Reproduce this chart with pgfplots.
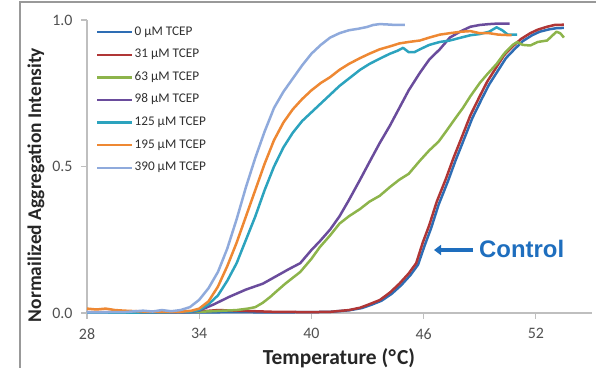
\documentclass[border=0pt]{standalone}
\usepackage{pgfplots}
\pgfplotsset{compat=1.18}
\usepackage{fontspec}
\setmainfont{Carlito}
\newfontfamily\arialfont{Liberation Sans}
\usetikzlibrary{arrows.meta}
\definecolor{cBlue}{RGB}{46,109,180}
\definecolor{cRed}{RGB}{176,54,54}
\definecolor{cGreen}{RGB}{141,180,75}
\definecolor{cPurple}{RGB}{106,76,156}
\definecolor{cTeal}{RGB}{44,163,190}
\definecolor{cOrange}{RGB}{238,136,51}
\definecolor{cLight}{RGB}{143,170,220}
\definecolor{cCtrl}{RGB}{30,110,190}
\definecolor{cAxis}{RGB}{191,191,191}
\definecolor{cTick}{RGB}{80,80,80}
\begin{document}
\begin{tikzpicture}[x=1bp,y=1bp]
\begin{axis}[
  at={(87bp,55bp)}, anchor=south west,
  scale only axis, width=505bp, height=293bp,
  xmin=28, xmax=55, ymin=0, ymax=1,
  axis x line=bottom, axis y line=left,
  axis line style={draw=cAxis, line width=1.3bp, -},
  xtick={28,34,40,46,52}, ytick={0,0.5,1},
  tick align=outside, major tick length=6bp,
  tick style={draw=cAxis, line width=1.1bp},
  minor tick num=0,
  yticklabel style={/pgf/number format/.cd, fixed, fixed zerofill, precision=1, /tikz/.cd, xshift=-5bp},
  xticklabel style={yshift=-6bp},
  /pgf/number format/assume math mode=true,
  ticklabel style={font=\fontsize{16}{16}\selectfont, text=cTick},
  clip=false,
  legend style={draw=none, fill=none, at={(rel axis cs:0,1)}, anchor=north west,
    xshift=9bp, yshift=-6bp, font=\fontsize{13.3}{13.3}\selectfont,
    row sep=10.6bp, inner sep=0pt,
    nodes={inner sep=1bp, text height=8bp, text depth=2bp, anchor=west, text=cTick!60!black}},
  legend cell align=left,
  legend image code/.code={\draw[#1, line width=2.4bp] (0bp,0bp) -- (35bp,0bp);},
  every axis plot/.append style={line width=2.5bp, line join=round},
]
% 0 uM
\addplot[cBlue] coordinates {
(28,0.002)(30,0.002)(32,0.003)(34,0.002)(36,0.003)(38,0.002)(40,0.003)(41,0.004)(42,0.009)
(42.7,0.017)(43.2,0.028)(43.75,0.042)(44.3,0.066)(44.8,0.095)(45.3,0.13)(45.7,0.165)
(46.05,0.23)(46.4,0.29)(46.8,0.37)(47.3,0.45)(47.7,0.52)(48.2,0.60)(48.6,0.665)(49.1,0.73)
(49.5,0.78)(50.0,0.83)(50.4,0.87)(50.85,0.90)(51.3,0.928)(51.8,0.948)(52.2,0.96)(52.7,0.968)
(53.1,0.972)(53.5,0.973)};
% 31 uM
\addplot[cRed] coordinates {
(28,0.003)(30,0.003)(32,0.003)(34,0.005)(35,0.01)(36,0.008)(37,0.006)(38,0.004)(40,0.003)
(41,0.004)(42,0.01)(42.6,0.018)(43.1,0.03)(43.65,0.044)(44.2,0.07)(44.7,0.10)(45.2,0.135)
(45.6,0.17)(45.95,0.24)(46.3,0.30)(46.7,0.38)(47.2,0.46)(47.6,0.53)(48.1,0.61)(48.5,0.675)
(49.0,0.74)(49.4,0.79)(49.9,0.84)(50.3,0.88)(50.76,0.91)(51.2,0.935)(51.7,0.955)(52.1,0.967)
(52.6,0.977)(53.0,0.983)(53.5,0.984)};
% 63 uM
\addplot[cGreen] coordinates {
(28,0.002)(30,0.002)(32,0.003)(34,0.004)(35,0.007)(36,0.01)(36.6,0.015)(37.0,0.02)(37.4,0.035)
(37.8,0.055)(38.15,0.075)(38.6,0.10)(39.0,0.12)(39.4,0.14)(40.0,0.185)(40.45,0.225)(41.0,0.265)
(41.5,0.305)(42.0,0.33)(42.6,0.355)(43.1,0.38)(43.65,0.40)(44.2,0.43)(44.7,0.455)(45.2,0.475)
(45.8,0.52)(46.3,0.555)(46.8,0.585)(47.2,0.62)(47.7,0.665)(48.1,0.70)(48.5,0.74)(49.0,0.785)
(49.4,0.815)(49.9,0.85)(50.3,0.885)(50.76,0.915)(51.0,0.925)(51.3,0.915)(51.7,0.913)(52.1,0.925)
(52.6,0.93)(53.1,0.96)(53.3,0.955)(53.5,0.94)};
% 98 uM
\addplot[cPurple] coordinates {
(28,0.001)(32,0.002)(33.5,0.003)(34.0,0.008)(34.8,0.03)(35.6,0.055)(36.5,0.08)(37.4,0.10)
(38.1,0.125)(38.8,0.15)(39.4,0.17)(40.0,0.215)(40.45,0.245)(41.0,0.285)(41.5,0.33)(42.0,0.385)
(42.6,0.455)(43.1,0.515)(43.65,0.58)(44.2,0.64)(44.7,0.70)(45.2,0.76)(45.8,0.82)(46.3,0.865)
(46.86,0.90)(47.4,0.94)(48.0,0.962)(48.5,0.977)(49.0,0.983)(49.5,0.986)(50.0,0.988)(50.6,0.988)};
% 125 uM
\addplot[cTeal] coordinates {
(28,0.001)(32,0.002)(33.5,0.004)(34.0,0.01)(34.5,0.03)(35.0,0.06)(35.5,0.11)(36.0,0.17)
(36.5,0.25)(37.0,0.33)(37.5,0.42)(38.0,0.50)(38.5,0.565)(39.0,0.615)(39.5,0.655)(40.0,0.685)
(40.5,0.715)(41.0,0.745)(41.5,0.775)(42.0,0.80)(42.6,0.83)(43.1,0.85)(43.65,0.868)(44.2,0.885)
(44.6,0.895)(44.9,0.905)(45.2,0.89)(45.5,0.89)(45.8,0.90)(46.3,0.915)(46.86,0.925)(47.4,0.93)
(48.0,0.94)(48.5,0.948)(49.0,0.952)(49.5,0.96)(49.9,0.975)(50.2,0.965)(50.5,0.95)(51.0,0.95)};
% 195 uM
\addplot[cOrange] coordinates {
(28,0.015)(28.5,0.012)(29,0.015)(29.5,0.01)(30,0.008)(31,0.005)(32,0.004)(33,0.004)(33.6,0.008)
(34.0,0.015)(34.5,0.04)(35.0,0.09)(35.5,0.16)(36.0,0.24)(36.5,0.33)(37.0,0.42)(37.5,0.51)
(38.0,0.59)(38.5,0.65)(39.0,0.695)(39.5,0.73)(40.0,0.76)(40.5,0.785)(41.0,0.805)(41.5,0.83)
(42.0,0.85)(42.6,0.87)(43.1,0.885)(43.65,0.90)(44.2,0.91)(44.7,0.92)(45.2,0.925)(45.8,0.93)
(46.3,0.94)(46.86,0.95)(47.4,0.955)(48.0,0.96)(48.5,0.962)(49.0,0.955)(49.5,0.955)(50.0,0.95)
(50.7,0.948)};
% 390 uM
\addplot[cLight] coordinates {
(28,0.002)(30,0.003)(31,0.008)(31.5,0.005)(32,0.01)(32.5,0.006)(33,0.01)(33.5,0.02)(34.0,0.045)
(34.5,0.085)(35.0,0.14)(35.5,0.22)(36.0,0.32)(36.5,0.43)(37.0,0.53)(37.5,0.62)(38.0,0.70)
(38.5,0.755)(39.0,0.80)(39.5,0.845)(40.0,0.885)(40.5,0.915)(41.0,0.94)(41.5,0.955)(42.0,0.965)
(42.5,0.97)(42.96,0.976)(43.3,0.983)(43.65,0.986)(44.0,0.985)(44.5,0.983)(45.0,0.983)};
\legend{0 µM TCEP, 31 µM TCEP, 63 µM TCEP, 98 µM TCEP, 125 µM TCEP, 195 µM TCEP, 390 µM TCEP}
\end{axis}
\node[rotate=90, font=\bfseries\fontsize{19.5}{19.5}\selectfont, text=black!85] at (36bp,183bp) {Normailized Aggregation Intensity};
\node[anchor=base, font=\bfseries\fontsize{21.5}{21.5}\selectfont, text=black!85] at (339bp,4bp) {Temperature (\kern0.5pt°\kern1pt C)};
\draw[cCtrl, line width=3.5bp, -{Triangle[length=7bp,width=10bp]}] (473bp,118bp) -- (434bp,118bp);
\node[anchor=base west, inner sep=0pt, font=\arialfont\bfseries\fontsize{24}{24}\selectfont, text=cCtrl] at (479bp,110bp) {Control};
\draw[black!40, line width=1.2bp] (20bp,-5bp) -- (20bp,366bp) -- (605bp,366bp);
\pgfresetboundingbox
\useasboundingbox (0,0) rectangle (596bp,368bp);
\end{tikzpicture}
\end{document}
